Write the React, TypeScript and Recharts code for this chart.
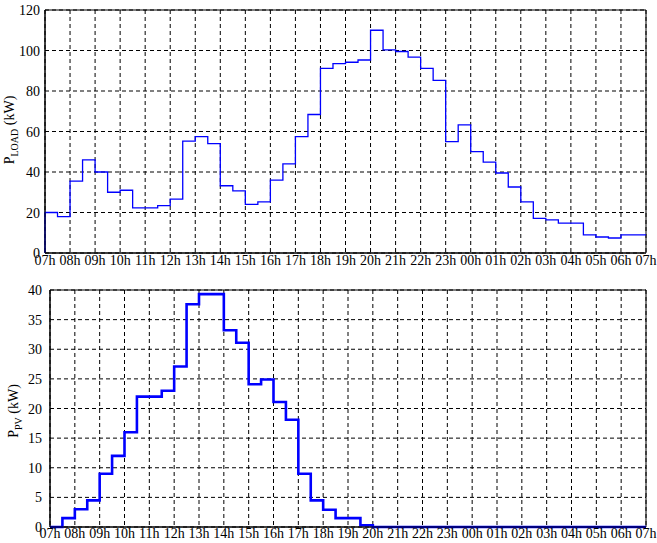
import React from 'react';
import { LineChart, Line, XAxis, YAxis, CartesianGrid, ReferenceArea, Label } from 'recharts';

const hourLabels = ['07h','08h','09h','10h','11h','12h','13h','14h','15h','16h','17h','18h','19h','20h','21h','22h','23h','00h','01h','02h','03h','04h','05h','06h','07h'];
const loadTicks = [0, 20, 40, 60, 80, 100, 120];
const pvTicks = [0, 5, 10, 15, 20, 25, 30, 35, 40];

const loadStart = 0;
// half-hour values of P_LOAD (kW), from 07h00 to 06h30
const loadValues = [
  20, 18, 35.5, 46, 40, 30, 31, 22.3, 22.3, 23.4, 26.6, 55.2,
  57.5, 54, 33.2, 30.7, 24, 25.2, 36, 44, 57.5, 68.4, 91.2, 93.5,
  94.2, 95.3, 110, 100.3, 99.5, 96.7, 91.2, 85.2, 55, 63.3, 50.1, 44.9,
  39.5, 32.6, 25.2, 17.1, 16.4, 14.8, 14.8, 9, 7.9, 7.4, 9, 9,
];
// half-hour values of P_PV (kW)
const pvValues = [
  0, 1.5, 3, 4.5, 9, 12, 16, 22, 22, 23, 27.1, 37.6,
  39.3, 39.3, 33.2, 31.1, 24.1, 24.9, 21.1, 18.1, 9, 4.5, 2.9, 1.5,
  1.5, 0.3, 0, 0, 0, 0, 0, 0, 0, 0, 0, 0,
  0, 0, 0, 0, 0, 0, 0, 0, 0, 0, 0, 0,
];

const buildSeries = (vals: number[], start?: number) => {
  const rows: { t: number; v: number }[] = [];
  if (start !== undefined) rows.push({ t: 0, v: start });
  vals.forEach((v, i) => rows.push({ t: i * 0.5, v }));
  rows.push({ t: vals.length * 0.5, v: vals[vals.length - 1] });
  return rows;
};

const loadData = buildSeries(loadValues, loadStart);
const pvData = buildSeries(pvValues);
const hourTicks = hourLabels.map((_, i) => i);

const FONT = '"Liberation Serif", "Times New Roman", serif';

const AxisTitle = (props: any) => {
  const { cx, cy, sub } = props;
  return (
    <text
      transform={`translate(${cx},${cy}) rotate(-90)`}
      textAnchor="middle"
      fontFamily={FONT}
      fontSize={14}
      fill="#000"
      style={{ fontFamily: FONT }}
    >
      <tspan>P</tspan>
      <tspan fontSize={10} dy={4}>{sub}</tspan>
      <tspan dy={-4}> (kW)</tspan>
    </text>
  );
};

const XTick = (props: any) => {
  const { x, y, payload } = props;
  return (
    <text x={x} y={y} dy={10} textAnchor="middle" fontSize={14} fill="#000" style={{ fontFamily: FONT }}>
      {hourLabels[payload.value]}
    </text>
  );
};

const YTick = (props: any) => {
  const { x, y, payload } = props;
  return (
    <text x={x} y={y} dy={5} textAnchor="end" fontSize={14} fill="#000" style={{ fontFamily: FONT }}>
      {payload.value}
    </text>
  );
};

export default function App() {
  return (
    <div style={{ position: 'absolute', left: 0, top: 0, width: 657, height: 543, background: '#fff', fontFamily: FONT }}>
      <div style={{ position: 'absolute', left: 0, top: 0 }}>
        <LineChart width={657} height={270} data={loadData} margin={{ top: 10, right: 11, left: 0, bottom: 0 }}>
          <CartesianGrid stroke="#000" strokeDasharray="4 3" strokeWidth={1} />
          <XAxis
            dataKey="t"
            type="number"
            domain={[0, 24]}
            ticks={hourTicks}
            interval={0}
            height={17}
            tickLine={false}
            tickSize={2}
            tickMargin={0}
            axisLine={{ stroke: '#000' }}
            tick={<XTick />}
          />
          <YAxis
            type="number"
            domain={[0, 120]}
            ticks={loadTicks}
            width={45}
            tickLine={false}
            tickSize={3}
            tickMargin={2}
            axisLine={{ stroke: '#000' }}
            tick={<YTick />}
          >
            <Label content={() => <AxisTitle cx={14} cy={130} sub="LOAD" />} />
          </YAxis>
          <ReferenceArea x1={0} x2={24} y1={0} y2={120} fill="none" stroke="#000" strokeWidth={1} />
          <Line type="stepAfter" dataKey="v" stroke="#0000ff" strokeWidth={1.3} dot={false} isAnimationActive={false} />
        </LineChart>
      </div>
      <div style={{ position: 'absolute', left: 0, top: 280 }}>
        <LineChart width={657} height={263} data={pvData} margin={{ top: 10, right: 11, left: 0, bottom: 0 }}>
          <CartesianGrid stroke="#000" strokeDasharray="4 3" strokeWidth={1} />
          <XAxis
            dataKey="t"
            type="number"
            domain={[0, 24]}
            ticks={hourTicks}
            interval={0}
            height={16}
            tickLine={false}
            tickSize={1}
            tickMargin={0}
            axisLine={{ stroke: '#000' }}
            tick={<XTick />}
          />
          <YAxis
            type="number"
            domain={[0, 40]}
            ticks={pvTicks}
            width={50}
            tickLine={false}
            tickSize={4}
            tickMargin={4}
            axisLine={{ stroke: '#000' }}
            tick={<YTick />}
          >
            <Label content={() => <AxisTitle cx={18} cy={131} sub="PV" />} />
          </YAxis>
          <ReferenceArea x1={0} x2={24} y1={0} y2={40} fill="none" stroke="#000" strokeWidth={1} />
          <Line type="stepAfter" dataKey="v" stroke="#0000ff" strokeWidth={2.6} dot={false} isAnimationActive={false} />
        </LineChart>
      </div>
    </div>
  );
}
